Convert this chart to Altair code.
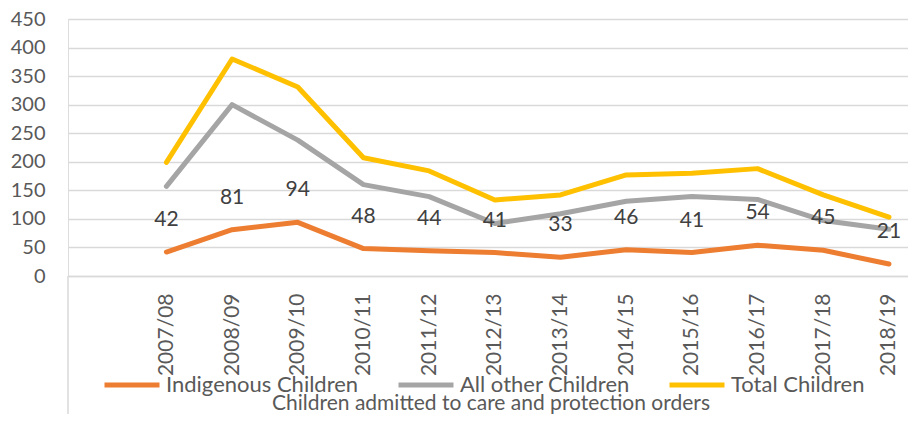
import altair as alt
import pandas as pd

years = ["2007/08", "2008/09", "2009/10", "2010/11", "2011/12", "2012/13",
         "2013/14", "2014/15", "2015/16", "2016/17", "2017/18", "2018/19"]
indigenous = [42, 81, 94, 48, 44, 41, 33, 46, 41, 54, 45, 21]
all_other = [157, 300, 238, 160, 139, 92, 109, 131, 139, 134, 97, 82]
total = [199, 380, 331, 207, 184, 133, 142, 177, 180, 188, 142, 103]
y_ticks = [0, 50, 100, 150, 200, 250, 300, 350, 400, 450]
series_names = ["Indigenous Children", "All other Children", "Total Children"]
series_colors = ["#ED7D31", "#A5A5A5", "#FFC000"]
title_text = "Children admitted to care and protection orders"

rows = []
for name, vals in zip(series_names, [indigenous, all_other, total]):
    for i, (y, v) in enumerate(zip(years, vals)):
        rows.append({"year": y, "value": v, "series": name, "order": series_names.index(name)})
df = pd.DataFrame(rows)
lab = pd.DataFrame({"year": years, "value": indigenous})

W, H = 840, 257
FONT = "Lato"
TXT = "#595959"
GRID = "#D9D9D9"

xscale = alt.Scale(type="point", domain=years, padding=0.894, align=0.838)
yscale = alt.Scale(domain=[0, 450])
x_axis = alt.Axis(title=None, labelAngle=-90, labelPadding=17, ticks=False,
                  domainColor=GRID, domainWidth=1.5, labelFont=FONT,
                  labelFontSize=21, labelColor=TXT, grid=False, labelOverlap=False)
y_axis = alt.Axis(title=None, values=y_ticks, grid=True, tickCount=10,
                  gridColor=GRID, gridWidth=1.5, domain=False, ticks=False,
                  labelOverlap=False, labelPadding=23, labelFont=FONT,
                  labelFontSize=20, labelColor=TXT)

lines = alt.Chart(df).mark_line(strokeWidth=5, strokeCap="round", strokeJoin="round").encode(
    x=alt.X("year:N", scale=xscale, sort=years, axis=x_axis),
    y=alt.Y("value:Q", scale=yscale, axis=y_axis),
    color=alt.Color("series:N", scale=alt.Scale(domain=series_names, range=series_colors),
                    legend=alt.Legend(title=None, orient="none", direction="horizontal",
                                      legendX=34, legendY=336, symbolType="stroke",
                                      symbolSize=3025, symbolStrokeWidth=5,
                                      labelFont=FONT, labelFontSize=22, labelColor=TXT,
                                      labelLimit=400, columnPadding=29, labelOffset=4,
                                      padding=0)),
    order=alt.Order("order:Q"),
)

labels = alt.Chart(lab).mark_text(dy=-32, font=FONT, fontSize=21, color="#404040").encode(
    x=alt.X("year:N", scale=xscale, sort=years, axis=x_axis),
    y=alt.Y("value:Q", scale=yscale, axis=y_axis),
    text=alt.Text("value:Q"),
)

frame = pd.DataFrame({"a": [0]})
vline = alt.Chart(frame).mark_rule(color=GRID, strokeWidth=1.5).encode(
    x=alt.value(0), y=alt.value(H), y2=alt.value(H + 146))
hline = alt.Chart(frame).mark_rule(color=GRID, strokeWidth=1.5).encode(
    x=alt.value(0), x2=alt.value(W), y=alt.value(H + 145))
title = alt.Chart(frame).mark_text(font=FONT, fontSize=21, color=TXT, baseline="alphabetic",
                                   align="center").encode(
    x=alt.value(W / 2 + 3), y=alt.value(H + 134), text=alt.value(title_text))

chart = alt.layer(vline, hline, lines, labels, title).properties(
    width=W, height=H,
    autosize=alt.AutoSizeParams(type="none"),
    padding={"left": 60, "top": 11, "right": 0, "bottom": 138},
).configure_view(stroke=None).configure(background="white")

chart.save("out.html", embed_options={"renderer": "svg", "actions": False})
